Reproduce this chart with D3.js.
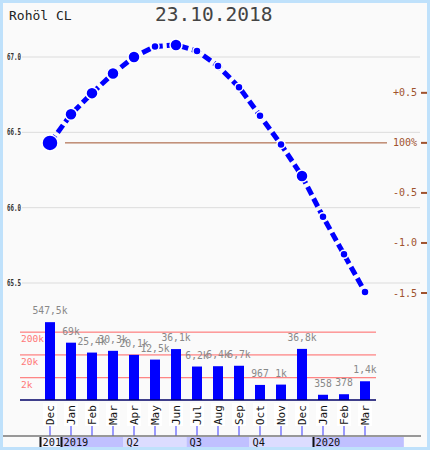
<html>
<script src="https://cdn.jsdelivr.net/npm/d3@7"></script>
<head>
    <style>
        body {
            margin: 0;
            font-family: "DejaVu Sans Mono", monospace;
        }
    </style>
</head>
<body>
    <svg id="chart"></svg>
    <script>
      // months shown on the x axis
      let months = ["Dec","Jan","Feb","Mar","Apr","May","Jun","Jul","Aug","Sep","Oct","Nov","Dec","Jan","Feb","Mar"]
      // price per month
      let prices = [66.43, 66.62, 66.76, 66.89, 67.00, 67.07, 67.08, 67.04, 66.94, 66.80, 66.61, 66.42, 66.21, 65.94, 65.69, 65.44]
      // traded volume per month
      let volumes = [547500, 69000, 25400, 30300, 20100, 12500, 36100, 6200, 6400, 6700, 967, 1000, 36800, 358, 378, 1400]
      let priceTicks = [67.0, 66.5, 66.0, 65.5]
      let pctTicks = [0.5, 0, -0.5, -1.0, -1.5]
      let pctLabels = ["+0.5", "100%", "-0.5", "-1.0", "-1.5"]
      let volTicks = [200000, 20000, 2000]
      let volTickLabels = ["200k", "20k", "2k"]
      // periods of the bottom time band, in month index units
      let periodLabels = ["2018", "2019", "Q2", "Q3", "Q4", "2020"]
      let periodStart = [0, 1, 4, 7, 10, 13]
      let periodEnd = [1, 4, 7, 10, 13, 17.35]
      let periodDark = [false, true, false, true, false, true]
      let periodYearStart = [true, true, false, false, false, true]

      let width = 430, height = 450
      let svg = d3.select("#chart").attr("width", width).attr("height", height)

      // frame
      svg.append("rect").attr("width", width).attr("height", height).attr("fill", "#bfe1fb")
      svg.append("rect").attr("x", 3).attr("y", 3).attr("width", 424).attr("height", 444).attr("fill", "#fafafa")

      let xScale = d3.scaleBand()
          .domain(d3.range(months.length))
          .range([39.5, 375.5])
      let cx = i => xScale(i) + xScale.bandwidth() / 2
      let step = xScale.step()
      let xTime = d3.scaleLinear().domain([0, 1]).range([39.5, 39.5 + step])

      let yScale = d3.scaleLinear().domain([65.5, 67.0]).range([283, 57])
      let base = prices[0]
      let yVol = d3.scaleLog().domain([211, 1528000]).range([400, 312])
      let radius = d3.scaleThreshold().domain([15000, 100000]).range([4, 6, 8])

      // titles
      svg.append("text").attr("x", 9).attr("y", 19.5)
          .style("font-size", "13px").attr("fill", "#222").text("Rohöl CL")
      svg.append("text").attr("x", 155).attr("y", 21)
          .style("font-size", "19.5px").attr("fill", "#444").text("23.10.2018")

      // price grid + left labels
      svg.append("g").selectAll("line").data(priceTicks).enter().append("line")
          .attr("x1", 22).attr("x2", 420)
          .attr("y1", d => yScale(d)).attr("y2", d => yScale(d))
          .attr("stroke", "#dcdcdc")
      svg.append("g").selectAll("text").data(priceTicks).enter().append("text")
          .attr("x", 7).attr("y", d => yScale(d) + 3)
          .attr("textLength", 14).attr("lengthAdjust", "spacingAndGlyphs")
          .style("font-size", "8px").style("font-weight", "bold")
          .attr("fill", "#333").text(d => d.toFixed(1))

      // percent axis on the right
      let yPct = p => yScale(base * (1 + p / 100))
      svg.append("line")
          .attr("x1", 65).attr("x2", 387)
          .attr("y1", yPct(0)).attr("y2", yPct(0))
          .attr("stroke", "#a0522d")
      let right = svg.append("g")
      right.selectAll("line").data(pctTicks).enter().append("line")
          .attr("x1", 421).attr("x2", 427)
          .attr("y1", d => yPct(d)).attr("y2", d => yPct(d))
          .attr("stroke", "#a0522d").attr("stroke-width", 2)
      right.selectAll("text").data(pctTicks).enter().append("text")
          .attr("x", 417).attr("y", d => yPct(d) + 3.5)
          .attr("text-anchor", "end")
          .style("font-size", "10px").attr("fill", "#a0522d")
          .text((d, i) => pctLabels[i])

      // price line
      let line = d3.line().x((d, i) => cx(i)).y(d => yScale(d))
      svg.append("path").datum(prices)
          .attr("d", line)
          .attr("fill", "none")
          .attr("stroke", "#0000ff")
          .attr("stroke-width", 5)
          .attr("stroke-dasharray", "9,4")
      svg.append("g").selectAll("circle").data(prices).enter().append("circle")
          .attr("cx", (d, i) => cx(i)).attr("cy", d => yScale(d))
          .attr("r", (d, i) => radius(volumes[i]))
          .attr("fill", "#0000ff").attr("stroke", "white").attr("stroke-width", 1.5)

      // volume grid
      let volGrid = svg.append("g")
      volGrid.selectAll("line").data(volTicks).enter().append("line")
          .attr("x1", 20).attr("x2", 376)
          .attr("y1", d => yVol(d)).attr("y2", d => yVol(d))
          .attr("stroke", "#ff6464")
      volGrid.selectAll("text").data(volTicks).enter().append("text")
          .attr("x", 21).attr("y", d => yVol(d) + 10)
          .style("font-size", "9.5px").attr("fill", "#ff7878")
          .text((d, i) => volTickLabels[i])

      // volume bars
      svg.append("g").selectAll("rect").data(volumes).enter().append("rect")
          .attr("x", (d, i) => cx(i) - 5)
          .attr("width", 10)
          .attr("y", d => yVol(d))
          .attr("height", d => yVol.range()[0] - yVol(d))
          .attr("fill", "#0000ff")

      function fmtVol(v) {
          if (v < 1000) return String(v)
          let k = Math.round(v / 100) / 10
          return String(k).replace(".", ",") + "k"
      }
      svg.append("g").selectAll("text").data(volumes).enter().append("text")
          .attr("x", (d, i) => cx(i)).attr("y", d => yVol(d) - 8)
          .attr("text-anchor", "middle")
          .style("font-size", "9.7px").attr("fill", "#888")
          .text(d => fmtVol(d))

      svg.append("line")
          .attr("x1", 20).attr("x2", 376).attr("y1", 400).attr("y2", 400)
          .attr("stroke", "#000066").attr("stroke-width", 1.5)

      // month labels
      let mg = svg.append("g").selectAll("g").data(months).enter().append("g")
      mg.append("rect")
          .attr("x", (d, i) => cx(i) - 7).attr("y", 403)
          .attr("width", 14).attr("height", 23).attr("fill", "white")
      mg.append("line")
          .attr("x1", (d, i) => cx(i)).attr("x2", (d, i) => cx(i))
          .attr("y1", 426).attr("y2", 436)
          .attr("stroke", "#3838ff")
      mg.append("text")
          .attr("transform", (d, i) => `translate(${cx(i) + 3.5},425) rotate(-90)`)
          .style("font-size", "11px").attr("fill", "#111")
          .text(d => d)

      // bottom time band
      svg.append("line")
          .attr("x1", 3).attr("x2", 421).attr("y1", 436).attr("y2", 436)
          .attr("stroke", "#777").attr("stroke-width", 1.5)
      let defs = svg.append("defs")
      periodLabels.forEach((label, i) => {
          let x0 = xTime(periodStart[i]), x1 = xTime(periodEnd[i])
          defs.append("clipPath").attr("id", "clip" + i)
              .append("rect").attr("x", x0).attr("y", 437).attr("width", x1 - x0).attr("height", 10)
          svg.append("rect")
              .attr("x", x0).attr("y", 437).attr("width", x1 - x0).attr("height", 10)
              .attr("fill", periodDark[i] ? "#c0c0ff" : (i == 0 ? "#f2f2ff" : "#dcdcff"))
          if (periodYearStart[i]) {
              svg.append("rect").attr("x", x0).attr("y", 437).attr("width", 2).attr("height", 10).attr("fill", "#111")
          }
          svg.append("text")
              .attr("x", x0 + 3).attr("y", 445.5)
              .attr("clip-path", `url(#clip${i})`)
              .style("font-size", "10.3px").attr("fill", "#111")
              .text(label)
      })
    </script>
</body>
</html>
